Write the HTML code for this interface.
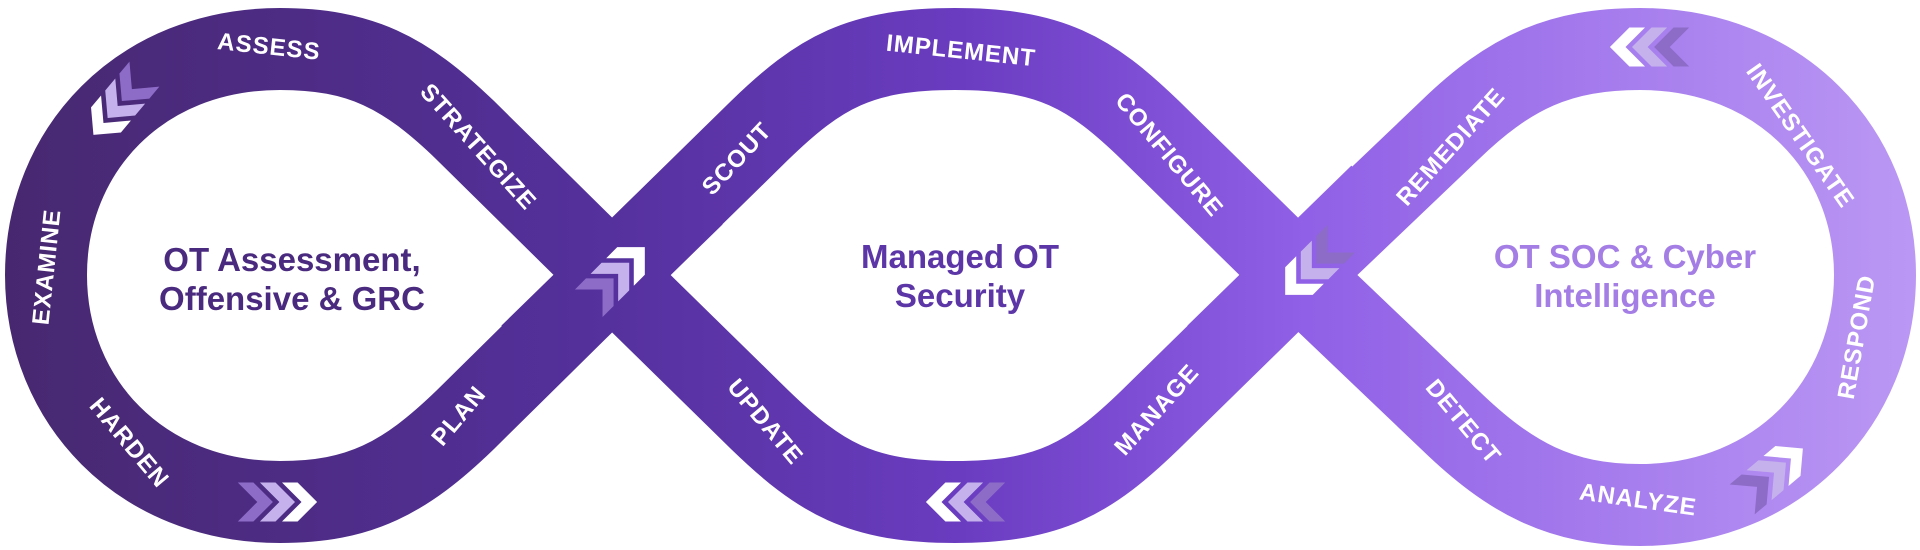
<!DOCTYPE html>
<html><head><meta charset="utf-8"><style>
html,body{margin:0;padding:0;background:#fff;}
svg{display:block}
.l{font-family:"Liberation Sans",sans-serif;font-weight:bold;font-size:24px;fill:#fff;letter-spacing:1px;text-anchor:middle;dominant-baseline:central}
.c{font-family:"Liberation Sans",sans-serif;font-weight:bold;font-size:33px;text-anchor:middle}
</style></head><body>
<svg width="1920" height="550" viewBox="0 0 1920 550" xmlns="http://www.w3.org/2000/svg">
<defs>
<linearGradient id="g" x1="0" y1="0" x2="1920" y2="0" gradientUnits="userSpaceOnUse">
<stop offset="0" stop-color="#47286f"/>
<stop offset="0.3" stop-color="#53309a"/>
<stop offset="0.5" stop-color="#6a3cc0"/>
<stop offset="0.68" stop-color="#9060e6"/>
<stop offset="1" stop-color="#bb98f4"/>
</linearGradient>
<g id="ch" transform="scale(1.3)">
<polygon points="-34,-15 -22,-15 -7,0 -22,15 -34,15 -19,0" fill="#8d6cc8"/>
<polygon points="-17,-15 -5,-15 10,0 -5,15 -17,15 -2,0" fill="#c5b2ec"/>
<polygon points="0,-15 12,-15 27,0 12,15 0,15 15,0" fill="#ffffff"/>
</g>
</defs>
<path d="M612,275 L760,130 C820,72 860,49 955,49 C1050,49 1090,72 1150,130 L1298,275 L1450,420 C1510,478 1560,505 1640,505 C1780,505 1875,400 1875,275 C1875,150 1780,49 1640,49 C1560,49 1510,72 1450,130 L1298,275 L1150,420 C1090,478 1050,502 955,502 C860,502 820,478 760,420 L612,275 L465,130 C405,72 360,49 280,49 C140,49 46,150 46,275 C46,400 140,502 280,502 C360,502 405,478 465,420 Z" fill="none" stroke="url(#g)" stroke-width="82" stroke-linejoin="round"/>
<path d="M530,355 L694,195" fill="none" stroke="url(#g)" stroke-width="82"/>
<path d="M1380,195 L1216,355" fill="none" stroke="url(#g)" stroke-width="82"/>

<text class="l" transform="translate(269,47) rotate(6)">ASSESS</text>
<text class="l" transform="translate(478,147) rotate(48)">STRATEGIZE</text>
<text class="l" transform="translate(47,267) rotate(-84)">EXAMINE</text>
<text class="l" transform="translate(129,443) rotate(50)">HARDEN</text>
<text class="l" transform="translate(459,416) rotate(-50)">PLAN</text>
<text class="l" transform="translate(737,159) rotate(-47)">SCOUT</text>
<text class="l" transform="translate(765,422) rotate(50)">UPDATE</text>
<text class="l" transform="translate(961,51) rotate(6)">IMPLEMENT</text>
<text class="l" transform="translate(1169,155) rotate(50)">CONFIGURE</text>
<text class="l" transform="translate(1157,410) rotate(-48)">MANAGE</text>
<text class="l" transform="translate(1451,147) rotate(-48)">REMEDIATE</text>
<text class="l" transform="translate(1463,422) rotate(50)">DETECT</text>
<text class="l" transform="translate(1800,136) rotate(55)">INVESTIGATE</text>
<text class="l" transform="translate(1857,337) rotate(-80)">RESPOND</text>
<text class="l" transform="translate(1638,500) rotate(8)">ANALYZE</text>

<use href="#ch" transform="translate(116,108) rotate(130)"/>
<use href="#ch" transform="translate(282,502)"/>
<use href="#ch" transform="translate(620,272) rotate(-45)"/>
<use href="#ch" transform="translate(961,502) rotate(180)"/>
<use href="#ch" transform="translate(1310,270) rotate(135)"/>
<use href="#ch" transform="translate(1645,47) rotate(180)"/>
<use href="#ch" transform="translate(1776,471) rotate(-40)"/>

<text class="c" fill="#4a2a7e" x="292" y="271">OT Assessment,</text>
<text class="c" fill="#4a2a7e" x="292" y="310">Offensive &amp; GRC</text>
<text class="c" fill="#5c36a6" x="960" y="268">Managed OT</text>
<text class="c" fill="#5c36a6" x="960" y="307">Security</text>
<text class="c" fill="#a47ee4" x="1625" y="268">OT SOC &amp; Cyber</text>
<text class="c" fill="#a47ee4" x="1625" y="307">Intelligence</text>
</svg>
</body></html>
